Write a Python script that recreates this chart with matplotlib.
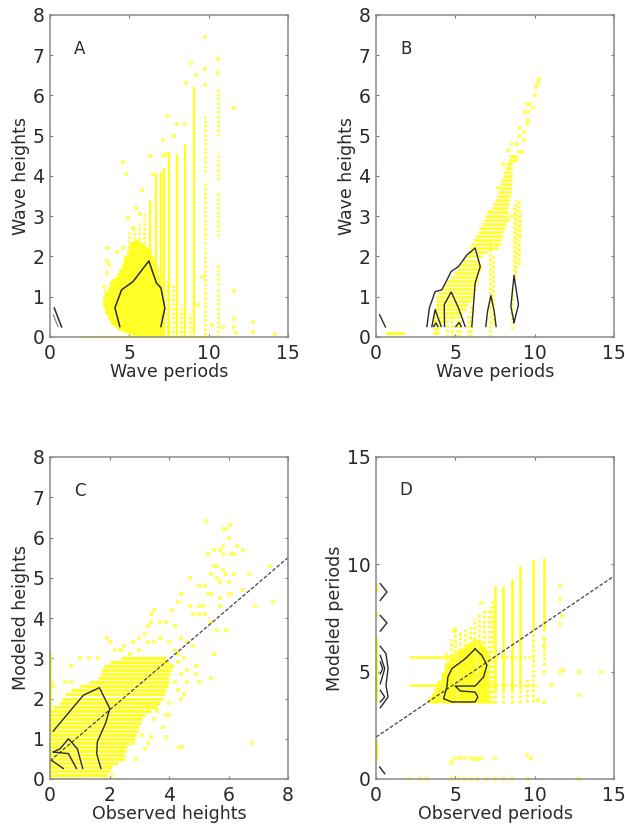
import matplotlib
matplotlib.use('Agg')
import matplotlib.pyplot as plt

YELLOW = '#ffff26'
PALE = '#ffff66'
INK = '#2a2a2a'
DOTS = (0, (1, 0.8))

# Panel A: dense body, columns of points (period, lowest height, highest height)
a_body_x = [3.45, 3.6, 3.75, 3.9, 4.05, 4.2, 4.35, 4.5, 4.65, 4.8, 4.95, 5.1, 5.25, 5.4, 5.55, 5.7, 5.85, 6.0, 6.15, 6.3, 6.45, 6.6, 6.75, 6.9, 7.05]
a_body_lo = [0.72, 0.55, 0.42, 0.33, 0.27, 0.22, 0.18, 0.15, 0.12, 0.1, 0.08, 0.06, 0.05, 0.03, 0.02, 0.02, 0.02, 0.02, 0.02, 0.02, 0.02, 0.02, 0.02, 0.02, 0.02]
a_body_hi = [1.0, 1.15, 1.25, 1.4, 1.45, 1.5, 1.6, 1.7, 1.85, 2.0, 2.15, 2.3, 2.35, 2.4, 2.4, 2.35, 2.3, 2.25, 2.2, 2.1, 2.0, 1.9, 1.75, 1.5, 1.2]
# Panel A: tall discrete columns
a_col_x = [6.3, 6.65, 7.0, 7.2, 7.5, 8.0, 8.5, 9.1]
a_col_lo = [0.0, 0.0, 0.0, 0.0, 0.0, 0.0, 0.0, 0.05]
a_col_hi = [3.4, 4.05, 4.1, 4.2, 4.6, 4.55, 4.8, 6.2]
a_dot_x = [5.0, 5.3, 5.6, 5.95, 7.35, 7.75, 8.25, 8.8, 9.8, 9.8, 9.8, 10.6, 10.6, 10.6, 10.6, 10.6]
a_dot_lo = [2.1, 2.3, 2.3, 2.2, 0.0, 0.0, 0.0, 0.0, 0.05, 2.3, 4.1, 0.0, 1.3, 2.5, 3.9, 5.0]
a_dot_hi = [2.6, 2.7, 2.8, 3.1, 1.4, 1.3, 0.8, 0.6, 2.2, 3.9, 5.5, 1.2, 1.85, 3.6, 4.6, 6.2]
a_pts_x = [4.6, 4.8, 5.4, 5.8, 6.3, 6.5, 7.1, 7.1, 7.3, 7.4, 7.8, 8.0, 8.5, 8.6, 8.9, 9.2, 9.8, 9.8, 9.8, 10.6, 10.6, 11.6, 11.6, 11.6, 11.6, 11.7, 12.8, 12.8, 14.2, 9.6, 10.2, 10.9, 9.3, 3.6, 3.6, 3.6, 3.7, 4.2, 4.6, 3.4, 3.5, 4.9, 5.2, 5.7]
a_pts_y = [4.35, 4.05, 3.2, 3.65, 4.5, 4.05, 4.9, 4.5, 4.55, 5.5, 5.0, 5.3, 5.3, 6.3, 6.8, 6.5, 7.45, 6.65, 6.25, 6.9, 6.55, 5.7, 1.15, 0.45, 0.25, 0.1, 0.38, 0.12, 0.08, 1.5, 0.3, 0.25, 0.8, 2.2, 1.9, 1.6, 1.8, 2.1, 2.2, 1.25, 1.1, 2.95, 2.7, 3.05]
a_base_x = [2.0, 10.0]
a_base_y = [0.0, 0.0]
a_line1_x = [4.4, 4.09, 4.51, 5.24, 6.23, 6.71, 6.99, 7.24, 6.99]
a_line1_y = [0.26, 0.72, 1.17, 1.38, 1.89, 1.34, 1.22, 0.72, 0.26]
a_line2_x = [0.27, 0.73]
a_line2_y = [0.72, 0.25]
a_line3_x = [0.21, 0.5]
a_line3_y = [0.55, 0.26]

# Panel B: rows of points (height, first period, last period)
b_row_y = [0.1, 0.2, 0.3, 0.4, 0.5, 0.6, 0.7, 0.8, 0.9, 1.0, 1.1, 1.2, 1.3, 1.4, 1.5, 1.6, 1.7, 1.8, 1.9, 2.0, 2.1, 2.2, 2.3, 2.4, 2.5, 2.6, 2.7, 2.8, 2.9, 3.0, 3.1, 3.2, 3.3, 3.4, 3.5, 3.6, 3.7, 3.8, 3.9, 4.0, 4.1, 4.2, 4.3, 4.4, 4.5]
b_row_lo = [3.6, 3.6, 3.6, 3.6, 3.6, 3.6, 3.7, 3.7, 3.8, 3.8, 3.9, 4.2, 4.3, 4.5, 4.7, 4.9, 5.1, 5.3, 5.5, 5.7, 5.8, 5.9, 6.0, 6.1, 6.25, 6.4, 6.5, 6.7, 6.8, 6.9, 7.1, 7.3, 7.4, 7.5, 7.6, 7.7, 7.8, 7.8, 7.9, 8.0, 8.0, 8.1, 8.2, 8.3, 8.4]
b_row_hi = [4.0, 4.0, 4.1, 4.4, 5.0, 5.4, 5.7, 5.8, 6.0, 6.1, 6.2, 6.3, 6.3, 6.4, 6.5, 6.5, 6.6, 6.6, 6.5, 6.7, 7.0, 7.7, 7.8, 7.9, 8.0, 8.0, 8.1, 8.2, 8.2, 8.25, 8.3, 8.3, 8.4, 8.4, 8.5, 8.5, 8.5, 8.55, 8.55, 8.55, 8.6, 8.6, 8.6, 8.8, 8.9]
b_col_x = [4.5, 4.8, 5.1, 5.3, 5.8, 6.0, 7.2, 7.4]
b_col_lo = [0.0, 0.0, 0.0, 0.0, 0.0, 0.0, 0.0, 0.3]
b_col_hi = [0.5, 0.6, 0.7, 0.6, 0.6, 0.8, 2.4, 2.0]
b_dot_x = [8.6, 8.7, 8.85, 9.0, 9.1]
b_dot_lo = [0.2, 1.4, 1.6, 1.8, 2.5]
b_dot_hi = [1.2, 3.3, 3.4, 3.4, 3.1]
b_pts_x = [8.5, 8.9, 9.0, 9.0, 9.1, 9.2, 9.3, 9.3, 9.4, 9.5, 9.6, 9.5, 9.7, 9.6, 9.9, 10.0, 10.1, 10.2, 10.3, 8.5, 8.3, 8.6, 8.3, 8.0, 7.7, 7.1, 8.8]
b_pts_y = [4.3, 4.8, 4.6, 5.0, 5.2, 4.6, 4.9, 5.1, 5.6, 5.8, 5.4, 5.3, 5.8, 5.6, 5.7, 6.0, 6.2, 6.3, 6.4, 3.0, 2.9, 4.8, 4.65, 4.3, 3.7, 3.1, 4.4]
b_base_x = [0.7, 1.7]
b_base_y = [0.1, 0.1]
b_lines_x = [
    [3.21, 3.36, 3.73, 4.15, 4.74, 5.2, 5.73, 6.25, 6.57, 6.25, 6.04],
    [3.52, 3.73, 4.11],
    [3.63, 3.78, 3.9],
    [4.32, 4.3, 4.74, 5.2, 5.62],
    [5.03, 5.24, 5.37],
    [6.92, 7.03, 7.24, 7.45, 7.57],
    [8.7, 8.5, 8.7, 8.98, 8.7],
    [0.23, 0.59],
]
b_lines_y = [
    [0.26, 0.72, 1.13, 1.17, 1.63, 1.75, 2.04, 2.21, 1.75, 1.34, 0.26],
    [0.26, 0.68, 0.26],
    [0.26, 0.35, 0.26],
    [0.26, 0.8, 1.12, 0.72, 0.26],
    [0.26, 0.36, 0.26],
    [0.26, 0.64, 1.03, 0.64, 0.26],
    [0.36, 0.76, 1.53, 0.8, 0.36],
    [0.55, 0.25],
]

# Panel C: rows of points (modeled height, first observed, last observed)
c_row_y = [0.0, 0.1, 0.2, 0.3, 0.4, 0.5, 0.6, 0.7, 0.8, 0.9, 1.0, 1.1, 1.2, 1.3, 1.4, 1.5, 1.6, 1.7, 1.8, 1.9, 2.0, 2.1, 2.2, 2.3, 2.4, 2.5, 2.6, 2.7, 2.8, 2.9, 3.0]
c_row_lo = [0.0, 0.0, 0.0, 0.0, 0.0, 0.0, 0.0, 0.0, 0.0, 0.0, 0.0, 0.0, 0.0, 0.0, 0.0, 0.0, 0.0, 0.0, 0.1, 0.3, 0.4, 0.5, 0.7, 1.0, 1.3, 1.6, 1.7, 1.7, 1.8, 2.0, 2.4]
c_row_hi = [1.1, 1.9, 2.0, 2.1, 2.3, 2.45, 2.5, 2.55, 2.6, 2.7, 2.85, 2.9, 2.95, 3.0, 3.05, 3.1, 3.2, 3.4, 3.6, 3.7, 3.8, 3.85, 3.9, 3.95, 4.0, 4.0, 4.05, 4.1, 4.1, 4.0, 3.9]
c_pts_x = [5.25, 5.8, 5.9, 6.05, 6.0, 5.5, 5.7, 5.8, 6.3, 6.5, 5.3, 5.8, 6.1, 6.2, 5.5, 5.6, 5.8, 5.4, 5.9, 6.2, 5.6, 5.7, 6.0, 6.7, 7.4, 4.7, 4.4, 5.0, 5.2, 5.3, 5.4, 6.0, 6.1, 6.5, 5.7, 7.5, 6.9, 4.3, 4.7, 5.0, 5.15, 5.7, 4.8, 5.0, 5.2, 3.5, 3.4, 3.4, 3.3, 3.7, 3.9, 4.1, 4.2, 5.4, 5.6, 5.9, 5.5, 5.4, 6.8, 4.35, 4.45, 3.3, 3.4, 3.9, 3.8, 4.0, 3.9, 4.0, 4.4, 4.6, 4.9, 5.0, 4.9, 1.9, 2.0, 2.5, 2.8, 3.0, 3.2, 1.0, 1.3, 1.6, 0.7, 2.2, 2.4, 2.7, 3.0, 3.3, 3.5, 3.7, 4.0, 4.4, 4.6, 4.8, 4.2, 4.3, 4.5, 4.3, 4.6, 4.1, 4.4, 4.2, 4.5, 4.3, 3.9, 3.7, 3.5, 3.6, 3.3, 3.5, 3.1, 3.2, 2.5, 2.4, 2.1, 2.0, 2.9, 2.8, 0.05, 0.1, 0.5, 0.7]
c_pts_y = [6.4, 6.2, 6.2, 6.3, 6.0, 5.7, 5.7, 5.8, 5.8, 5.7, 5.6, 5.6, 5.6, 5.6, 5.3, 5.3, 5.2, 5.1, 5.1, 5.1, 5.0, 4.9, 4.9, 5.1, 5.3, 5.0, 4.6, 4.8, 4.8, 4.6, 4.6, 4.6, 4.6, 4.7, 4.5, 4.4, 4.3, 4.4, 4.3, 4.3, 4.3, 4.3, 4.1, 4.1, 4.1, 4.2, 4.1, 3.9, 3.8, 3.9, 3.9, 4.2, 3.8, 3.9, 3.7, 3.7, 3.1, 2.5, 0.9, 0.8, 0.8, 0.9, 1.05, 1.05, 1.3, 1.6, 1.6, 1.9, 2.0, 2.4, 2.6, 2.4, 2.8, 3.5, 3.4, 3.3, 3.4, 3.5, 3.6, 3.0, 3.0, 3.0, 2.8, 3.2, 3.2, 3.1, 3.2, 3.4, 3.4, 3.5, 3.4, 3.5, 3.4, 3.3, 3.2, 3.1, 3.0, 2.9, 2.7, 2.8, 2.6, 2.4, 2.1, 2.2, 2.3, 2.1, 1.9, 1.7, 1.8, 1.5, 1.1, 0.75, 0.5, 0.7, 0.1, 0.3, 0.5, 0.9, 2.4, 2.3, 2.4, 2.4]
c_axis_x = [0.0, 0.0]
c_axis_y = [0.0, 3.1]
c_fit_x = [0.0, 8.0]
c_fit_y = [0.45, 5.5]
c_lines_x = [
    [0.11, 0.62, 1.12, 1.66, 2.01, 1.88, 1.59, 1.57, 1.71],
    [0.11, 0.34, 0.62, 0.92, 1.1],
    [0.11, 0.62, 0.89],
    [0.06, 0.45],
]
c_lines_y = [
    [1.19, 1.64, 2.08, 2.27, 1.75, 1.41, 0.92, 0.63, 0.26],
    [0.67, 0.75, 1.0, 0.75, 0.26],
    [0.67, 0.63, 0.26],
    [0.46, 0.26],
]

# Panel D: dense columns (observed period, lowest modeled, highest modeled)
d_body_x = [3.4, 3.6, 3.8, 4.0, 4.2, 4.4, 4.6, 4.8, 5.0, 5.2, 5.4, 5.6, 5.8, 6.0, 6.2, 6.4, 6.6, 6.8, 7.0]
d_body_lo = [3.55, 3.55, 3.55, 3.55, 3.55, 3.55, 3.55, 3.55, 3.55, 3.55, 3.55, 3.55, 3.55, 3.55, 3.55, 3.55, 3.55, 3.55, 3.55]
d_body_hi = [3.8, 4.0, 4.3, 4.6, 5.0, 5.3, 5.5, 5.7, 5.9, 6.0, 6.1, 6.2, 6.3, 6.4, 6.5, 6.5, 6.4, 6.2, 6.0]
d_col_x = [7.5, 8.0, 8.6, 9.1, 9.9, 10.6]
d_col_lo = [4.0, 4.0, 4.0, 4.2, 6.9, 6.9]
d_col_hi = [9.0, 9.0, 9.3, 9.9, 10.2, 10.3]
d_dot_x = [4.4, 4.7, 5.0, 5.3, 5.6, 5.9, 6.2, 6.5, 6.8, 7.1, 7.3, 7.5, 8.0, 8.6, 9.1, 9.5, 9.9, 10.6]
d_dot_lo = [5.3, 5.5, 5.9, 6.0, 6.2, 6.3, 6.5, 6.4, 6.1, 3.55, 3.55, 3.55, 3.55, 3.55, 3.55, 3.6, 3.6, 5.3]
d_dot_hi = [5.9, 6.5, 7.0, 6.9, 7.0, 7.1, 7.5, 7.7, 7.9, 8.0, 8.3, 4.0, 4.0, 4.0, 4.2, 4.7, 6.9, 6.7]
d_row_y = [5.7, 4.4]
d_row_lo = [2.1, 2.1]
d_row_hi = [5.0, 4.8]
d_rowdot_lo = [7.0, 7.0]
d_rowdot_hi = [10.0, 10.2]
d_axis_lo = [0.9, 3.6, 7.6, 8.7]
d_axis_hi = [1.8, 6.6, 7.8, 9.1]
d_pts_x = [4.7, 4.8, 5.0, 5.3, 5.6, 6.0, 6.2, 6.4, 6.6, 7.5, 9.5, 9.8, 2.1, 2.8, 3.2, 4.8, 5.2, 5.6, 6.0, 6.4, 7.0, 7.5, 8.0, 8.6, 9.6, 12.8, 11.6, 11.6, 11.7, 11.6, 11.6, 11.8, 12.8, 14.2, 12.8, 11.1, 10.2, 10.6, 10.6, 10.6, 10.6, 5.0, 4.9, 6.6]
d_pts_y = [0.75, 0.8, 1.0, 1.0, 1.0, 1.0, 0.95, 0.95, 1.0, 1.0, 1.1, 1.0, 0.0, 0.0, 0.0, 0.0, 0.0, 0.0, 0.0, 0.0, 0.0, 0.0, 0.0, 0.0, 0.0, 0.0, 9.0, 8.4, 7.6, 7.2, 5.0, 5.1, 5.0, 5.0, 3.9, 4.4, 3.7, 3.6, 6.5, 6.2, 5.0, 7.0, 6.9, 8.2]
d_fit_x = [0.0, 15.0]
d_fit_y = [1.95, 9.45]
d_lines_x = [
    [6.25, 6.67, 6.99, 6.78, 6.25, 4.99, 5.31, 6.25, 6.42, 6.25, 4.78, 4.26, 4.47, 4.53, 4.78, 5.62, 6.25],
    [0.27, 0.69, 0.27],
    [0.27, 0.69, 0.27],
    [0.27, 0.63, 0.76, 0.63, 0.76, 0.27],
    [0.27, 0.55, 0.27],
    [0.27, 0.55, 0.27],
    [0.27, 0.42, 0.27],
    [0.23, 0.55],
]
d_lines_y = [
    [6.06, 5.76, 5.3, 4.75, 4.33, 4.33, 4.1, 4.05, 3.82, 3.59, 3.59, 3.74, 4.29, 4.75, 5.14, 5.6, 6.06],
    [9.1, 8.71, 8.32],
    [7.62, 7.27, 6.89],
    [6.18, 5.84, 5.14, 4.36, 3.82, 3.32],
    [5.76, 5.14, 4.44],
    [4.13, 3.82, 3.59],
    [5.45, 5.14, 4.9],
    [0.56, 0.25],
]


def make_axes(left, top, xmax, ymax, xticks, yticks, xlabel, ylabel, letter, letter_x, letter_y):
    w, h = 625.0, 826.0
    ax = fig.add_axes([left / w, 1 - (top + 322) / h, 238 / w, 322 / h])
    ax.set_xlim(0, xmax)
    ax.set_ylim(0, ymax)
    ax.set_xticks(xticks)
    ax.set_yticks(yticks)
    ax.tick_params(direction='in', length=2.5, width=0.8, color='#777777', labelsize=13.5,
                   labelcolor=INK, top=True, right=True)
    ax.tick_params(axis='x', pad=5)
    ax.tick_params(axis='y', pad=4)
    for s in ax.spines.values():
        s.set_color('#8a8a8a')
        s.set_linewidth(1.1)
        s.set_zorder(5)
    ax.set_xlabel(xlabel, fontsize=12.5, color=INK, labelpad=0)
    ax.set_ylabel(ylabel, fontsize=12.5, color=INK, labelpad=2)
    ax.text(letter_x, letter_y, letter, fontsize=12, color=INK, ha='center', va='center')
    return ax


def draw_lines(ax, xs, ys):
    for x, y in zip(xs, ys):
        ax.plot(x, y, color=INK, lw=1.0, zorder=4, clip_on=False)


fig = plt.figure(figsize=(6.25, 8.26), dpi=100)

# A
ax = make_axes(50, 15, 15, 8, [0, 5, 10, 15], range(9), 'Wave periods', 'Wave heights', 'A', 1.85, 7.15)
ax.vlines(a_body_x, a_body_lo, a_body_hi, color=YELLOW, lw=2.6)
ax.vlines(a_col_x, a_col_lo, a_col_hi, color=YELLOW, lw=1.7)
ax.vlines(a_dot_x, a_dot_lo, a_dot_hi, color=YELLOW, lw=1.8, linestyles=DOTS)
ax.scatter(a_pts_x, a_pts_y, s=5, marker='s', color=PALE, linewidths=0)
ax.plot(a_base_x, a_base_y, color=YELLOW, lw=1.5, clip_on=False)
ax.plot(a_line1_x, a_line1_y, color=INK, lw=1.1, zorder=4)
ax.plot(a_line2_x, a_line2_y, color=INK, lw=1.1, zorder=4)
ax.plot(a_line3_x, a_line3_y, color='#888888', lw=0.9, zorder=4)

# B
ax = make_axes(376, 15, 15, 8, [0, 5, 10, 15], range(9), 'Wave periods', 'Wave heights', 'B', 1.89, 7.15)
ax.hlines(b_row_y, b_row_lo, b_row_hi, color=YELLOW, lw=1.9)
ax.vlines(b_col_x, b_col_lo, b_col_hi, color=YELLOW, lw=1.9, linestyles=DOTS)
ax.vlines(b_dot_x, b_dot_lo, b_dot_hi, color=YELLOW, lw=1.9, linestyles=DOTS)
ax.scatter(b_pts_x, b_pts_y, s=6, marker='s', color=PALE, linewidths=0)
ax.plot(b_base_x, b_base_y, color=YELLOW, lw=2.2)
draw_lines(ax, b_lines_x, b_lines_y)

# C
ax = make_axes(50, 457, 8, 8, range(0, 9, 2), range(9), 'Observed heights', 'Modeled heights', 'C', 1.0, 7.16)
ax.hlines(c_row_y, c_row_lo, c_row_hi, color=YELLOW, lw=2.2)
ax.scatter(c_pts_x, c_pts_y, s=5, marker='s', color=PALE, linewidths=0)
ax.plot(c_axis_x, c_axis_y, color=YELLOW, lw=2.0)
ax.plot(c_fit_x, c_fit_y, color='#444444', lw=0.9, ls=(0, (3, 1.5)), zorder=3)
draw_lines(ax, c_lines_x, c_lines_y)

# D
ax = make_axes(376, 457, 15, 15, [0, 5, 10, 15], [0, 5, 10, 15], 'Observed periods', 'Modeled periods', 'D', 1.89, 13.45)
ax.vlines(d_body_x, d_body_lo, d_body_hi, color=YELLOW, lw=2.5)
ax.vlines(d_col_x, d_col_lo, d_col_hi, color=YELLOW, lw=1.9)
ax.vlines(d_dot_x, d_dot_lo, d_dot_hi, color=YELLOW, lw=2.0, linestyles=DOTS)
ax.hlines(d_row_y, d_row_lo, d_row_hi, color=YELLOW, lw=1.8)
ax.hlines(d_row_y, d_rowdot_lo, d_rowdot_hi, color=YELLOW, lw=1.8, linestyles=DOTS)
ax.vlines([0.0] * len(d_axis_lo), d_axis_lo, d_axis_hi, color=YELLOW, lw=2.4)
ax.scatter(d_pts_x, d_pts_y, s=5, marker='s', color=PALE, linewidths=0, clip_on=False)
ax.plot(d_fit_x, d_fit_y, color='#444444', lw=0.9, ls=(0, (3, 1.5)), zorder=3)
draw_lines(ax, d_lines_x, d_lines_y)

fig.savefig('out.png', dpi=100)
